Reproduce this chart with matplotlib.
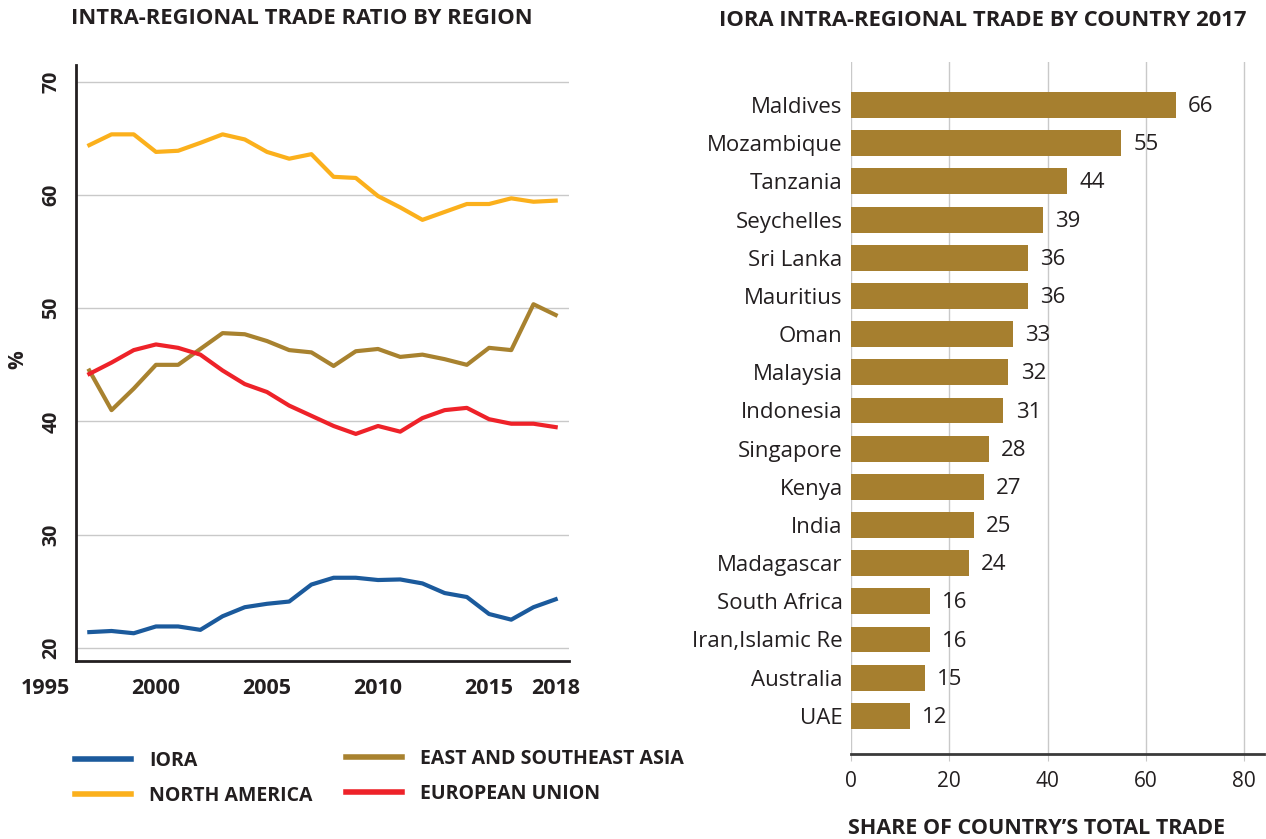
import matplotlib
matplotlib.use("Agg")
import matplotlib.pyplot as plt
from matplotlib.lines import Line2D

plt.rcParams['font.family'] = ['Open Sans', 'DejaVu Sans']

# left chart data
years = list(range(1997, 2019))
iora = [21.4, 21.5, 21.3, 21.9, 21.9, 21.6, 22.8, 23.6, 23.9, 24.1, 25.6,
        26.2, 26.2, 26.0, 26.05, 25.7, 24.85, 24.5, 23.0, 22.5, 23.6, 24.3]
north_america = [64.4, 65.35, 65.35, 63.8, 63.9, 64.6, 65.35, 64.9, 63.8, 63.2, 63.6,
                 61.6, 61.5, 59.9, 58.9, 57.8, 58.5, 59.2, 59.2, 59.7, 59.4, 59.5]
east_asia = [44.5, 41.0, 42.9, 45.0, 45.0, 46.4, 47.8, 47.7, 47.1, 46.3, 46.1,
             44.9, 46.2, 46.4, 45.7, 45.9, 45.5, 45.0, 46.5, 46.3, 50.35, 49.4]
eu = [44.2, 45.2, 46.3, 46.8, 46.5, 45.9, 44.5, 43.3, 42.6, 41.4, 40.5,
      39.6, 38.9, 39.6, 39.1, 40.3, 41.0, 41.2, 40.2, 39.8, 39.8, 39.5]
year_ticks = [1995, 2000, 2005, 2010, 2015, 2018]
pct_ticks = [20, 30, 40, 50, 60, 70]

# right chart data
countries = ['Maldives', 'Mozambique', 'Tanzania', 'Seychelles', 'Sri Lanka', 'Mauritius',
             'Oman', 'Malaysia', 'Indonesia', 'Singapore', 'Kenya', 'India', 'Madagascar',
             'South Africa', 'Iran,Islamic Re', 'Australia', 'UAE']
shares = [66, 55, 44, 39, 36, 36, 33, 32, 31, 28, 27, 25, 24, 16, 16, 15, 12]
share_ticks = [0, 20, 40, 60, 80]

c_iora = '#1b5a9c'
c_na = '#fbb01c'
c_ea = '#a8822f'
c_eu = '#ee2229'
c_bar = '#a67f2f'
dark = '#231f20'
grid = '#c9c9c9'

W, H = 1266, 839
fig = plt.figure(figsize=(12.66, 8.39), dpi=100)

# ---- left: line chart ----
ax = fig.add_axes([76/W, 1 - 661/H, 493/W, (661 - 64.7)/H])
ax.plot(years, iora, color=c_iora, lw=3.0)
ax.plot(years, north_america, color=c_na, lw=3.0)
ax.plot(years, east_asia, color=c_ea, lw=3.0)
ax.plot(years, eu, color=c_eu, lw=3.0)
ax.set_xlim(1996.4, 2018.6)
ax.set_ylim(18.85, 71.5)
ax.set_yticks(pct_ticks)
ax.set_yticklabels([str(v) for v in pct_ticks], rotation=90, va='center',
                   fontsize=14, fontweight='bold', color=dark)
ax.tick_params(axis='y', length=0, pad=10.5)
ax.set_xticks([])
for yr in year_ticks:
    ax.text(yr, 16.45, str(yr), ha='center', va='center', fontsize=15.5,
            fontweight='bold', color=dark, clip_on=False)
ax.grid(axis='y', color=grid, lw=1)
ax.set_axisbelow(True)
for s in ['top', 'right']:
    ax.spines[s].set_visible(False)
for s in ['left', 'bottom']:
    ax.spines[s].set_color(dark)
    ax.spines[s].set_linewidth(2)
fig.text(18/W, 1 - 360/H, '%', rotation=90, ha='center', va='center',
         fontsize=15, fontweight='bold', color=dark)

fig.text(302/W, 1 - 19/H, 'INTRA-REGIONAL TRADE RATIO BY REGION', ha='center',
         va='center', fontsize=15.8, fontweight='bold', color=dark)

# legend, two columns
leg_kw = dict(loc='center left', frameon=False, handlelength=2.9, handletextpad=0.9,
              labelspacing=0.8, borderpad=0, borderaxespad=0,
              prop={'size': 14, 'weight': 'bold'})
leg1 = fig.legend([Line2D([], [], color=c_iora, lw=4), Line2D([], [], color=c_na, lw=4)],
                  ['IORA', 'NORTH AMERICA'], bbox_to_anchor=(75/W, 1 - 778.5/H), **leg_kw)
leg2 = fig.legend([Line2D([], [], color=c_ea, lw=4), Line2D([], [], color=c_eu, lw=4)],
                  ['EAST AND SOUTHEAST ASIA', 'EUROPEAN UNION'],
                  bbox_to_anchor=(346/W, 1 - 776.5/H), **leg_kw)
for lg in (leg1, leg2):
    for t in lg.get_texts():
        t.set_color(dark)

# ---- right: bar chart ----
bx = fig.add_axes([851/W, 1 - 754/H, 413/W, 692/H])
pos = list(range(len(countries)))
bars = bx.barh(pos, shares, height=0.68, color=c_bar)
bx.set_ylim(17.0, -1.13)
bx.set_xlim(0, 84)
bx.set_yticks(pos)
bx.set_yticklabels(countries, fontsize=16, color=dark)
bx.tick_params(axis='y', length=0, pad=6)
bx.set_xticks(share_ticks)
bx.set_xticklabels([str(v) for v in share_ticks], fontsize=15, color=dark)
bx.tick_params(axis='x', length=5, color=grid, pad=7)
for b, v in zip(bars, shares):
    bx.text(b.get_width() + 2.5, b.get_y() + b.get_height() / 2 + 0.04, str(v),
            va='center', ha='left', fontsize=16, color=dark)
bx.grid(axis='x', color=grid, lw=1)
bx.set_axisbelow(True)
for s in ['top', 'right', 'left']:
    bx.spines[s].set_visible(False)
bx.spines['bottom'].set_color('#3a3a3a')
bx.spines['bottom'].set_linewidth(2)

fig.text(848/W, 1 - 828/H, 'SHARE OF COUNTRY\u2019S TOTAL TRADE', ha='left', va='center',
         fontsize=15.5, fontweight='bold', color=dark)
fig.text(983/W, 1 - 21/H, 'IORA INTRA-REGIONAL TRADE BY COUNTRY 2017', ha='center',
         va='center', fontsize=15.8, fontweight='bold', color=dark)

fig.savefig('out.png', dpi=100)
